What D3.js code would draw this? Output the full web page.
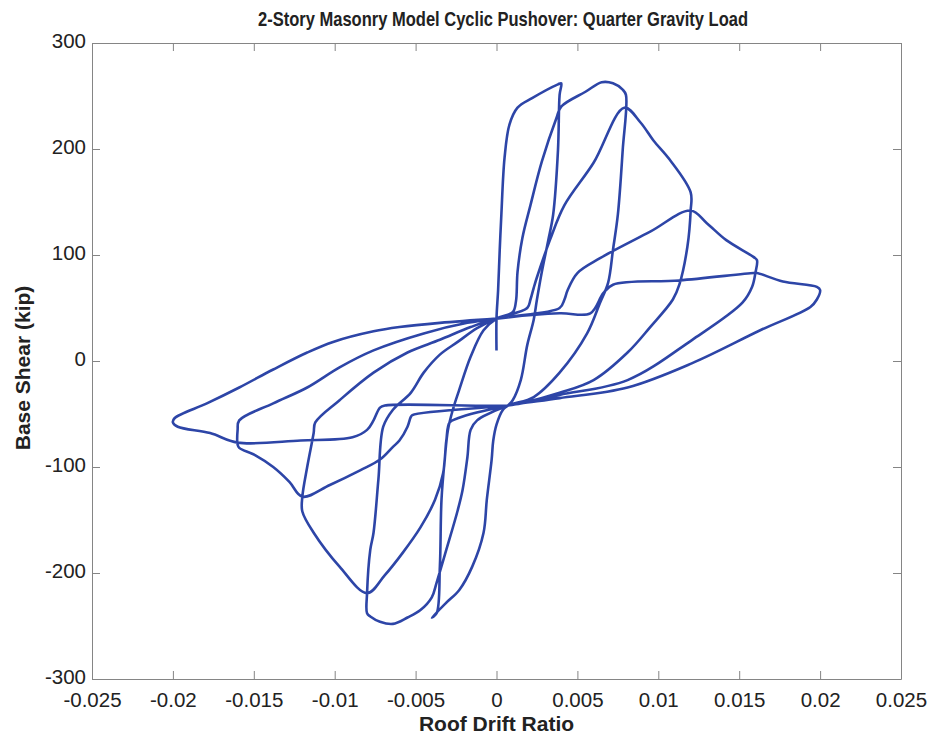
<!DOCTYPE html>
<html>
<head>
<meta charset="utf-8">
<script src="https://cdn.jsdelivr.net/npm/d3@7"></script>
<style>
  body { margin: 0; background: #fff; }
  svg text { font-family: Arial, "Liberation Sans", Helvetica, sans-serif; fill: #222; }
</style>
</head>
<body>
<svg id="chart" width="936" height="734"></svg>
<script>
// ===== DADOS =====

const xTicks = [-0.025, -0.02, -0.015, -0.01, -0.005, 0, 0.005, 0.01, 0.015, 0.02, 0.025];
const xTickLabels = ["-0.025", "-0.02", "-0.015", "-0.01", "-0.005", "0", "0.005", "0.01", "0.015", "0.02", "0.025"];
const yTicks = [-300, -200, -100, 0, 100, 200, 300];
const yTickLabels = ["-300", "-200", "-100", "0", "100", "200", "300"];

// [roof drift ratio, base shear (kip)]
const gravityStart = [[0, 10], [0, 40]];

const cycle004 = [
  [0.0001, 67], [0.0002, 105], [0.0003, 138], [0.0005, 192], [0.0008, 223], [0.0013, 239], [0.0022, 248], [0.0038, 261], [0.0040, 262],
  [0.0039, 251], [0.0038, 199], [0.0035, 138], [0.0032, 114], [0.0028, 84], [0.0025, 58], [0.0023, 39], [0.0019, 15], [0.0015, -18], [0.0010, -37], [0.0007, -42],
  [0.0004, -46], [0.0000, -60], [-0.0002, -75], [-0.0003, -93], [-0.0006, -131], [-0.0008, -162], [-0.0015, -194], [-0.0023, -216], [-0.0031, -228], [-0.0040, -242],
  [-0.0037, -238], [-0.0035, -194], [-0.0034, -131], [-0.0032, -93], [-0.0030, -65], [-0.0027, -46], [-0.0023, -27], [-0.0016, 4], [-0.0008, 29], [0, 40]
];

const cycle008 = [
  [0.0010, 46], [0.0012, 56], [0.0013, 84], [0.0016, 116], [0.0021, 147], [0.0028, 188], [0.0037, 229], [0.0040, 240], [0.0055, 254], [0.0065, 263], [0.0072, 262], [0.0078, 256], [0.0080, 251],
  [0.0078, 199], [0.0075, 138], [0.0072, 105], [0.0069, 74], [0.0064, 55], [0.0056, 26], [0.0039, -11], [0.0023, -34], [0.0007, -42],
  [-0.0012, -56], [-0.0016, -65], [-0.0018, -91], [-0.0021, -122], [-0.0024, -141], [-0.0031, -178], [-0.0037, -209], [-0.0040, -223], [-0.0047, -235], [-0.0055, -242], [-0.0064, -248], [-0.0072, -246], [-0.0078, -241], [-0.0080, -238],
  [-0.0080, -219], [-0.0078, -178], [-0.0076, -162], [-0.0073, -112], [-0.0070, -62], [-0.0064, -46], [-0.0053, -30], [-0.0045, -11], [-0.0035, 6], [-0.0024, 18], [-0.0012, 31], [0, 40]
];

const cycle012 = [
  [0.0019, 50], [0.0021, 58], [0.0023, 69], [0.0025, 79], [0.0033, 114], [0.0042, 147], [0.0060, 187], [0.0079, 239], [0.0089, 225], [0.0097, 208], [0.0107, 190], [0.0120, 159],
  [0.0120, 142], [0.0118, 108], [0.0113, 72], [0.0109, 58], [0.0095, 32], [0.0081, 8], [0.0060, -18], [0.0039, -30], [0.0015, -40], [0.0007, -42],
  [-0.0024, -54], [-0.0029, -58], [-0.0031, -75], [-0.0033, -106], [-0.0038, -131], [-0.0047, -157], [-0.0058, -181], [-0.0069, -202], [-0.0080, -219], [-0.0097, -194], [-0.0113, -162], [-0.0120, -142],
  [-0.0120, -128], [-0.0117, -100], [-0.0113, -68], [-0.0112, -58], [-0.0097, -37], [-0.0076, -11], [-0.0055, 8], [-0.0035, 20], [-0.0016, 32], [0, 40]
];

const cycle016 = [
  [0.0039, 50], [0.0042, 58], [0.0044, 67], [0.0050, 83], [0.0064, 97], [0.0095, 122], [0.0120, 142], [0.0130, 130], [0.0142, 114], [0.0159, 98], [0.0161, 95],
  [0.0160, 83], [0.0158, 70], [0.0152, 55], [0.0121, 20], [0.0081, -18], [0.0039, -32], [0.0015, -40], [0.0007, -42],
  [-0.0052, -51], [-0.0053, -53], [-0.0055, -62], [-0.0060, -75], [-0.0064, -81], [-0.0072, -93], [-0.0084, -103], [-0.0103, -117], [-0.0120, -128], [-0.0128, -114], [-0.0138, -100], [-0.0149, -89], [-0.0159, -82], [-0.0160, -79],
  [-0.0160, -65], [-0.0159, -56], [-0.0138, -40], [-0.0117, -25], [-0.0097, -6], [-0.0076, 10], [-0.0045, 26], [-0.0018, 36], [0, 40]
];

const cycle020 = [
  [0.0039, 45], [0.0058, 45], [0.0066, 64], [0.0072, 72], [0.0113, 76], [0.0159, 83], [0.0161, 83], [0.0177, 75], [0.0198, 70], [0.0200, 67],
  [0.0198, 58], [0.0194, 51], [0.0163, 29], [0.0121, -2], [0.0081, -25], [0.0039, -35], [0.0015, -40], [0.0007, -42],
  [-0.0069, -42], [-0.0072, -44], [-0.0076, -56], [-0.0080, -65], [-0.0089, -72], [-0.0121, -75], [-0.0160, -77], [-0.0177, -68], [-0.0197, -62], [-0.0200, -58],
  [-0.0199, -54], [-0.0179, -40], [-0.0159, -25], [-0.0138, -8], [-0.0117, 8], [-0.0101, 18], [-0.0076, 28], [-0.0060, 32], [-0.0035, 36], [0, 40]
];

// ===== CONFIGURAÇÃO =====

const margin = { top: 43, right: 35, bottom: 55, left: 92 };
const width = 936 - margin.left - margin.right;
const height = 734 - margin.top - margin.bottom;
const axisColor = "#858585";

const svg = d3.select("#chart");
const g = svg.append("g").attr("transform", `translate(${margin.left},${margin.top})`);

const x = d3.scaleLinear().domain([-0.025, 0.025]).range([0, width]);
const y = d3.scaleLinear().domain([-300, 300]).range([height, 0]);

// ===== EIXOS =====

function styleAxis(sel, size) {
  sel.selectAll("path").attr("stroke", axisColor);
  sel.selectAll("line").attr("stroke", axisColor);
  sel.selectAll("text").attr("font-size", size).attr("fill", "#222");
}

g.append("g")
  .attr("transform", `translate(0,${height})`)
  .call(d3.axisBottom(x).tickValues(xTicks).tickFormat((d, i) => xTickLabels[i])
    .tickSizeInner(-8).tickSizeOuter(0).tickPadding(13))
  .call(styleAxis, 20.5);

g.append("g")
  .call(d3.axisTop(x).tickValues(xTicks).tickFormat("").tickSizeInner(-8).tickSizeOuter(0))
  .call(styleAxis, 20.5);

g.append("g")
  .call(d3.axisLeft(y).tickValues(yTicks).tickFormat((d, i) => yTickLabels[i])
    .tickSizeInner(-8).tickSizeOuter(0).tickPadding(6))
  .call(styleAxis, 20.5)
  .call(a => a.selectAll("text").attr("dy", "0.22em"));

g.append("g")
  .attr("transform", `translate(${width},0)`)
  .call(d3.axisRight(y).tickValues(yTicks).tickFormat("").tickSizeInner(-8).tickSizeOuter(0))
  .call(styleAxis, 20.5);

// ===== CURVA =====

const hysteresis = [].concat(gravityStart, cycle004, cycle008, cycle012, cycle016, cycle020);

const line = d3.line()
  .x(d => x(d[0]))
  .y(d => y(d[1]))
  .curve(d3.curveCatmullRom.alpha(0.5));

g.append("path")
  .datum(hysteresis)
  .attr("fill", "none")
  .attr("stroke", "#2d45a7")
  .attr("stroke-width", 2.6)
  .attr("stroke-linejoin", "round")
  .attr("d", line);

// ===== TEXTOS =====

svg.append("text")
  .attr("x", 503)
  .attr("y", 26)
  .attr("text-anchor", "middle")
  .attr("font-size", 20.5)
  .attr("font-weight", "bold")
  .attr("textLength", 490)
  .attr("lengthAdjust", "spacingAndGlyphs")
  .text("2-Story Masonry Model Cyclic Pushover:  Quarter Gravity Load");

svg.append("text")
  .attr("x", margin.left + width / 2)
  .attr("y", 731)
  .attr("text-anchor", "middle")
  .attr("font-size", 21)
  .attr("font-weight", "bold")
  .text("Roof Drift Ratio");

svg.append("text")
  .attr("transform", `translate(30,368) rotate(-90)`)
  .attr("text-anchor", "middle")
  .attr("font-size", 21)
  .attr("font-weight", "bold")
  .text("Base Shear (kip)");
</script>
</body>
</html>
